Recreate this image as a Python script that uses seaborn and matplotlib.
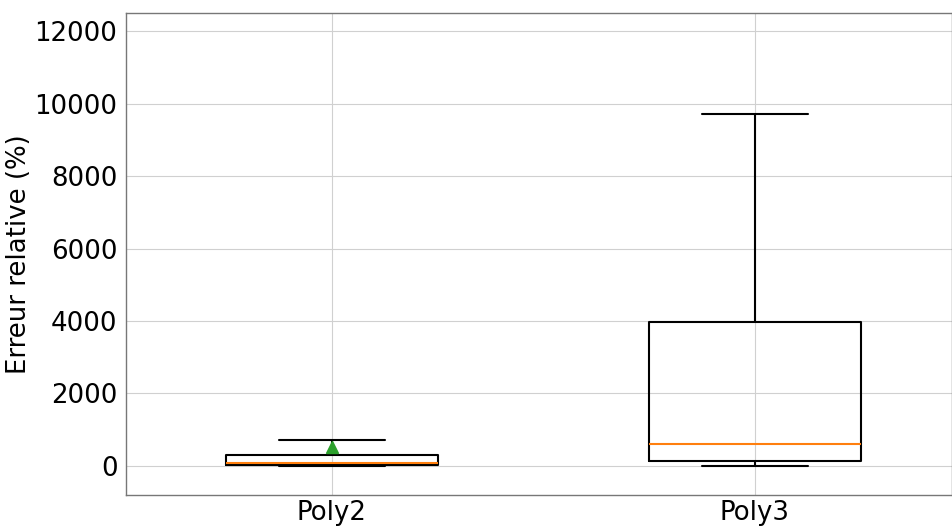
import seaborn as sns
import matplotlib.pyplot as plt
import pandas as pd

# Relative errors (%) per model; last value of each is an outlier (hidden)
poly2_err = [0, 10, 15, 40, 80, 150, 303, 717, 3365]
poly3_err = [0, 50, 125, 400, 607, 2000, 3972, 9710, 200000]
models = ["Poly2", "Poly3"]

df = pd.DataFrame({
    "model": ["Poly2"] * len(poly2_err) + ["Poly3"] * len(poly3_err),
    "err": poly2_err + poly3_err,
})

sns.set_style("white")
plt.rcParams["font.family"] = ["DejaVu Sans"]
fig, ax = plt.subplots(figsize=(9.53, 5.27), dpi=100)

sns.boxplot(data=df, x="model", y="err", order=models, ax=ax,
            fill=False, color="black", linecolor="black", width=0.5,
            showfliers=False, showmeans=True, linewidth=1.5,
            medianprops={"color": "#ff7f0e", "linewidth": 1.5},
            meanprops={"marker": "^", "markerfacecolor": "#2ca02c",
                       "markeredgecolor": "#2ca02c", "markersize": 8})

ax.set_ylim(-800, 12500)
ax.set_xlim(-0.487, 1.466)
ax.set_yticks(range(0, 12001, 2000))
ax.grid(True, color="#d0d0d0", linewidth=0.8)
ax.set_axisbelow(True)
for s in ax.spines.values():
    s.set_color("#777777")
    s.set_linewidth(1)
ax.set_xlabel("")
ax.set_ylabel("Erreur relative (%)", fontsize=18.7, color="black", labelpad=2)
ax.tick_params(axis="both", labelsize=18.7, labelcolor="black",
               length=3, pad=3, color="#d0d0d0")
ax.tick_params(axis="x", pad=1)

fig.subplots_adjust(left=0.132, right=0.999, top=0.975, bottom=0.061)
fig.savefig("out.png", dpi=100)
